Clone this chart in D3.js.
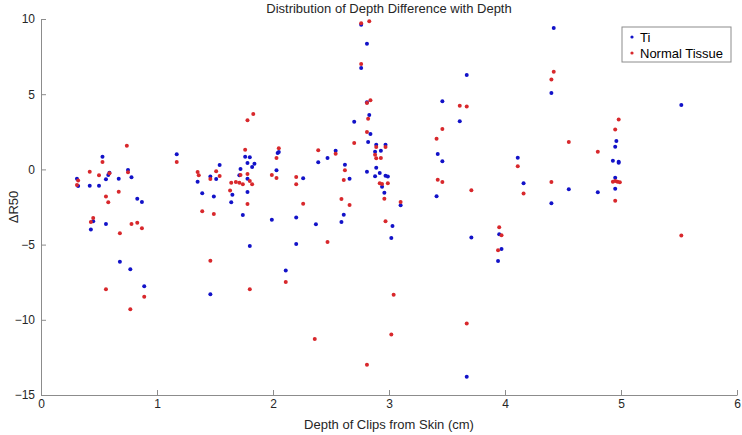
<!DOCTYPE html>
<html>
  <head>
    <meta charset="UTF-8">
    <title>Depth difference scatter</title>
    <script src="https://cdn.jsdelivr.net/npm/d3@7"></script>
    <style>
      body { margin: 0; background: #fff; }
      text { font-family: "Liberation Sans", Arial, sans-serif; }
    </style>
  </head>
  <body>
    <svg width="742" height="435"></svg>
    <script>
      // data
      var tiX = [0.31,0.32,0.42,0.50,0.53,0.56,0.58,0.59,0.67,0.75,0.78,0.83,0.87,0.45,0.43,0.56,0.68,0.77,0.89,1.17,
        1.54,1.35,1.46,1.51,1.39,1.49,1.64,1.65,1.72,1.76,1.80,1.78,1.84,1.82,1.71,1.78,1.78,1.74,1.80,1.99,
        2.03,2.04,2.05,2.26,2.20,2.39,2.37,2.20,3.02,1.46,2.11,3.67,2.76,2.81,2.76,2.81,2.83,2.70,2.84,2.82,
        2.54,2.47,2.62,2.66,2.89,2.97,2.93,2.88,2.81,2.89,2.92,2.88,2.97,2.99,2.94,2.96,2.61,2.59,3.03,3.10,
        3.67,3.46,3.61,3.42,3.46,3.41,4.11,4.16,3.71,3.95,3.97,3.94,4.42,4.40,5.52,4.96,4.95,4.93,4.98,4.98,
        4.95,4.95,4.55,4.80,4.40];
      var tiY = [-0.62,-1.10,-1.08,-1.08,0.84,-0.66,-0.37,-0.22,-0.62,-0.04,-0.53,-1.95,-2.17,-3.45,-4.00,-3.63,-6.14,-6.64,-7.77,1.00,
        0.29,-0.82,-0.48,-0.64,-1.59,-1.81,-2.19,-1.68,0.03,0.84,0.80,0.43,0.38,0.16,-0.39,-0.62,-1.50,-3.03,-5.09,-3.34,
        -0.06,1.09,1.16,-0.59,-3.19,0.47,-3.65,-4.96,-4.56,-8.30,-6.73,-13.78,9.62,8.36,6.74,4.46,3.62,3.17,2.35,1.82,
        1.24,0.76,0.31,-0.62,1.64,1.64,1.24,1.18,-0.15,0.11,-0.24,-0.46,-0.42,-0.48,-1.15,-1.55,-3.01,-3.50,-3.76,-2.39,
        6.28,4.53,3.20,1.02,0.54,-1.79,0.78,-0.92,-4.52,-4.32,-5.29,-6.09,9.40,5.08,4.28,1.89,1.51,0.58,0.51,0.45,
        -0.55,-1.28,-1.32,-1.52,-2.25];

      var ntX = [0.32,0.31,0.42,0.50,0.53,0.59,0.67,0.56,0.58,0.74,0.75,0.45,0.43,0.78,0.83,0.87,0.68,0.56,0.89,0.77,
        1.17,1.78,1.83,1.35,1.36,1.51,1.54,1.46,1.39,1.49,1.76,1.64,1.68,1.71,1.74,1.72,1.78,1.80,1.82,1.63,
        1.78,2.05,2.03,1.99,2.03,2.20,2.20,2.26,2.39,1.46,2.47,1.80,2.11,3.04,2.36,3.02,2.81,3.67,2.76,2.83,
        2.76,2.81,2.84,2.82,2.81,2.70,2.54,2.62,2.61,2.89,2.97,2.88,2.89,2.93,2.92,2.94,2.99,2.59,2.96,2.66,
        3.10,2.97,3.61,3.67,3.46,3.41,3.42,3.46,3.71,4.11,4.16,3.95,3.97,3.94,4.42,4.40,4.98,4.95,4.55,4.80,
        4.40,4.93,4.95,4.97,4.99,4.95,5.52];
      var ntY = [-0.73,-1.04,-0.15,-0.39,0.49,-0.26,-1.48,-1.81,-2.19,1.58,-0.19,-3.23,-3.50,-3.63,-3.54,-3.92,-4.25,-7.97,-8.46,-9.30,
        0.49,3.26,3.68,-0.17,-0.39,-0.13,-0.44,-0.64,-2.79,-2.97,1.31,-0.88,-0.84,-0.88,-0.99,-0.37,-0.31,-0.77,-0.99,-1.41,
        -2.30,1.40,0.76,-0.37,-0.57,-0.50,-0.99,-2.28,1.27,-6.07,-4.83,-7.97,-7.49,-8.33,-11.28,-10.97,-12.99,-10.24,9.71,9.85,
        7.00,4.41,4.59,3.37,2.49,1.76,1.04,-0.06,-0.70,1.49,1.49,0.98,0.74,0.76,-0.92,-0.97,-0.92,-1.97,-1.95,-2.37,
        -2.17,-3.45,4.24,4.19,2.69,2.04,-0.68,-0.84,-1.39,0.21,-1.61,-3.85,-4.38,-5.38,6.50,5.97,3.31,2.66,1.82,1.18,
        -0.84,-0.82,-0.77,-0.82,-0.86,-2.08,-4.39];

      var xTicks = [0,1,2,3,4,5,6];
      var yTicks = [-15,-10,-5,0,5,10];
      var seriesNames = ["Ti","Normal Tissue"];
      var seriesColors = ["#1212c8","#d8282c"];

      var svg = d3.select("svg");
      var margin = {top:19, right:5, bottom:40, left:41};
      var width = +svg.attr("width"), height = +svg.attr("height");

      var x = d3.scaleLinear().domain([0,6]).range([margin.left, width - margin.right]);
      var y = d3.scaleLinear().domain([-15,10]).range([height - margin.bottom, margin.top]);

      // axes (ticks point inward, matlab style)
      var xAxis = svg.append("g")
        .attr("transform","translate(0,"+y(-15)+")")
        .call(d3.axisBottom(x).tickValues(xTicks).tickFormat(d3.format("d"))
          .tickSizeInner(-5).tickSizeOuter(0).tickPadding(4));
      var yAxis = svg.append("g")
        .attr("transform","translate("+x(0)+",0)")
        .call(d3.axisLeft(y).tickValues(yTicks).tickFormat(d3.format("d"))
          .tickSizeInner(-5).tickSizeOuter(0).tickPadding(6));

      [xAxis, yAxis].forEach(function(a){
        a.selectAll("path, line").attr("stroke","#8c8c8c");
        a.selectAll("text").attr("fill","#262626").style("font-size","12px");
      });

      // points
      var series = [
        tiX.map(function(d,i){ return [d, tiY[i]]; }),
        ntX.map(function(d,i){ return [d, ntY[i]]; })
      ];
      series.forEach(function(pts, s){
        svg.append("g").selectAll("circle")
          .data(pts)
          .enter()
          .append("circle")
          .attr("cx", function(d){ return x(d[0]); })
          .attr("cy", function(d){ return y(d[1]); })
          .attr("r", 2)
          .attr("fill", seriesColors[s]);
      });

      // title and labels
      svg.append("text")
        .attr("x",(x(0)+x(6))/2).attr("y",13)
        .attr("text-anchor","middle")
        .style("font-size","13px").attr("fill","#262626")
        .text("Distribution of Depth Difference with Depth");
      svg.append("text")
        .attr("x",(x(0)+x(6))/2).attr("y",429)
        .attr("text-anchor","middle")
        .style("font-size","13px").attr("fill","#262626")
        .text("Depth of Clips from Skin (cm)");
      svg.append("text")
        .attr("transform","translate(18,"+((y(-15)+y(10))/2)+") rotate(-90)")
        .attr("text-anchor","middle")
        .style("font-size","13px").attr("fill","#262626")
        .text("ΔR50");

      // legend
      var lg = svg.append("g").attr("transform","translate(622,27)");
      lg.append("rect")
        .attr("width",109).attr("height",35)
        .attr("fill","#fff").attr("stroke","#8c8c8c");
      seriesNames.forEach(function(n,i){
        lg.append("circle")
          .attr("cx",10).attr("cy",10+i*16).attr("r",1.6)
          .attr("fill",seriesColors[i]);
        lg.append("text")
          .attr("x",18).attr("y",14.5+i*16)
          .style("font-size","13px").attr("fill","#000")
          .text(n);
      });
    </script>
  </body>
</html>
